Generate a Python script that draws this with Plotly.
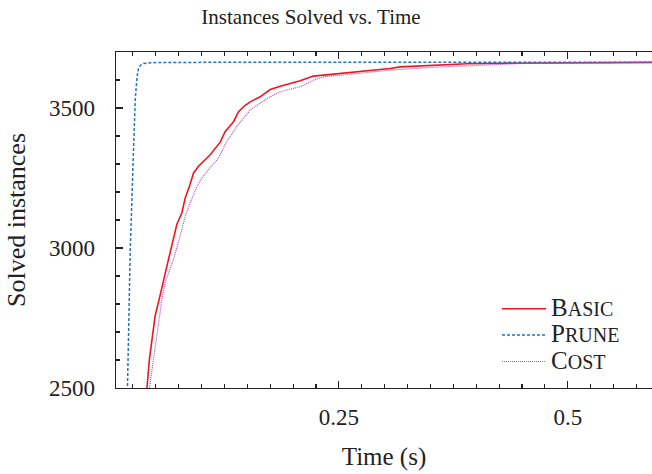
import plotly.graph_objects as go

# ---- data ----
basic_t = [0.036, 0.0404, 0.0432, 0.0469, 0.0494, 0.0540, 0.0585, 0.0629, 0.0666, 0.0694,
           0.0731, 0.0786, 0.0822, 0.0869, 0.0913, 0.0967, 0.1004, 0.1095, 0.1204, 0.1259,
           0.135, 0.1404, 0.147, 0.1532, 0.164, 0.175, 0.186, 0.196, 0.2077, 0.2223,
           0.244, 0.273, 0.306, 0.317, 0.35, 0.39, 0.43, 0.50, 0.60]
basic_y = [2380, 2500, 2606, 2702, 2759, 2820, 2878, 2945, 2996, 3031,
           3085, 3126, 3179, 3221, 3268, 3292, 3304, 3333, 3378, 3416,
           3451, 3487, 3508, 3522, 3540, 3566, 3578, 3586, 3597, 3614,
           3621, 3629, 3641, 3647, 3652, 3658, 3660, 3662, 3663]

prune_t = [0.0185, 0.0192, 0.0222, 0.0254, 0.0276, 0.0295, 0.0312, 0.0335, 0.0367, 0.046, 0.10, 0.60]
prune_y = [2400, 2500, 2996, 3316, 3528, 3610, 3642, 3653, 3659, 3662, 3663, 3663]

cost_t = [0.038, 0.0432, 0.047, 0.0513, 0.0568, 0.0604, 0.0660, 0.0694, 0.0767, 0.0822,
          0.0877, 0.095, 0.1004, 0.1076, 0.1186, 0.1270, 0.1386, 0.1532, 0.1714, 0.186,
          0.2077, 0.2223, 0.233, 0.262, 0.306, 0.35, 0.40, 0.45, 0.50, 0.60]
cost_y = [2380, 2500, 2606, 2702, 2819, 2878, 2930, 2960, 3043, 3114,
          3162, 3221, 3250, 3280, 3321, 3378, 3434, 3493, 3534, 3558,
          3576, 3599, 3611, 3621, 3635, 3645, 3653, 3659, 3661, 3662]

series_names = ["Basic", "Prune", "Cost"]

x_tickvals = [0.25, 0.5]
x_ticktext = ["0.25", "0.5"]
y_tickvals = [2500, 3000, 3500]
y_ticktext = ["2500", "3000", "3500"]

FONT = "Liberation Serif"
INK = "#222222"


def small_caps(name):
    return ("<span style='font-size:25px'>" + name[0] + "</span>"
            "<span style='font-size:20px'>" + name[1:].upper() + "</span>")


fig = go.Figure()
fig.add_trace(go.Scatter(x=basic_t, y=basic_y, mode="lines", name=small_caps(series_names[0]),
                         line=dict(color="#f0141e", width=1.6)))
fig.add_trace(go.Scatter(x=prune_t, y=prune_y, mode="lines", name=small_caps(series_names[1]),
                         line=dict(color="#1b75c4", width=1.5, dash="3px,2px")))
fig.add_trace(go.Scatter(x=cost_t, y=cost_y, mode="lines", name=small_caps(series_names[2]),
                         line=dict(color="#b04cc0", width=1.2, dash="1px,1px")))

W, H = 652, 474
PL, PT, PB = 116, 52, 388
fig.update_layout(
    width=W, height=H,
    margin=dict(l=PL, r=0, t=PT, b=H - PB),
    paper_bgcolor="white", plot_bgcolor="white",
    font=dict(family=FONT, color=INK, size=21),
    title=dict(text="Instances Solved vs. Time", x=311/W, xanchor="center",
               y=1 - 17/H, yanchor="middle", font=dict(size=21, family=FONT, color=INK)),
    showlegend=True,
    legend=dict(x=(497-PL)/(W-PL), xanchor="left", y=(PB-290.5)/(PB-PT), yanchor="top",
                bgcolor="rgba(0,0,0,0)", borderwidth=0, itemwidth=44,
                font=dict(size=18, family=FONT, color=INK),
                tracegroupgap=0),
)

fig.update_xaxes(
    range=[0.0066, 0.592], showgrid=False, zeroline=False,
    showline=True, linecolor=INK, linewidth=1.3, mirror="ticks",
    ticks="inside", ticklen=7, tickwidth=1.2, tickcolor=INK,
    tickvals=x_tickvals, ticktext=x_ticktext, tickfont=dict(size=23),
    ticklabelstandoff=8,
    minor=dict(dtick=0.025, tick0=0, ticks="inside", ticklen=4, tickwidth=1.1, tickcolor=INK),
    title=dict(text="Time (s)", font=dict(size=25), standoff=18),
)
fig.update_yaxes(
    range=[2500, 3700], showgrid=False, zeroline=False,
    showline=True, linecolor=INK, linewidth=1.3, mirror=False,
    ticks="inside", ticklen=7, tickwidth=1.2, tickcolor=INK,
    tickvals=y_tickvals, ticktext=y_ticktext, tickfont=dict(size=23),
    ticklabelstandoff=15,
    minor=dict(dtick=100, tick0=2500, ticks="inside", ticklen=4, tickwidth=1.1, tickcolor=INK),
    title=dict(text="Solved instances", font=dict(size=26), standoff=16),
)

# remove the browser's default 8px page margin so the figure fills the window exactly
fig.write_html("out.html",
               config={"displayModeBar": False, "staticPlot": True},
               post_script="document.body.style.margin='0';document.body.style.overflow='hidden';")
